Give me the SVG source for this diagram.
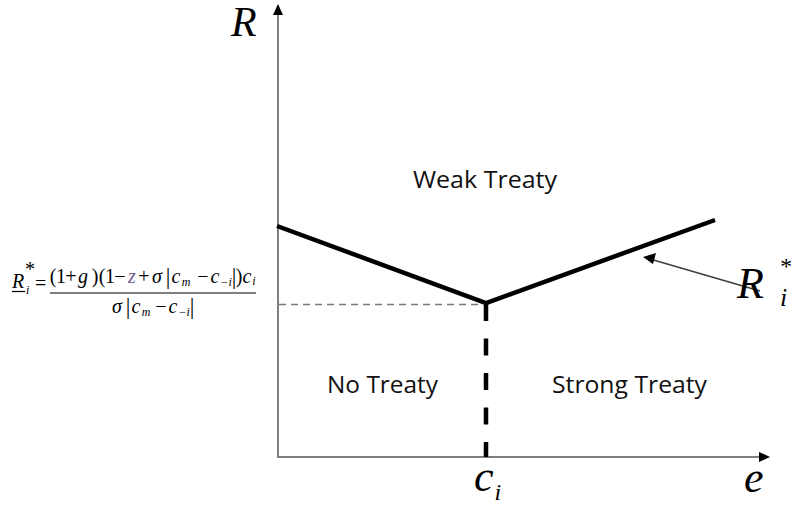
<svg xmlns="http://www.w3.org/2000/svg" width="801" height="506" viewBox="0 0 801 506">
<style>
.axis{stroke:#7f7f7f;stroke-width:2;fill:none}
.thick{stroke:#000;stroke-width:4.5;fill:none}
.lbl{font-family:"Open Sans","Liberation Sans",sans-serif;font-size:23px;fill:#111}
.math{font-family:"Liberation Serif",serif;font-style:italic;fill:#000}
.f{font-family:"Liberation Serif",serif;font-size:20px;fill:#000}
.it{font-style:italic}
.sub{font-size:12px;font-style:italic}
.bar{font-size:23px}
</style>
<rect width="801" height="506" fill="#fff"/>
<g id="axes">
<line class="axis" x1="278" y1="457" x2="278" y2="13"/>
<polygon points="278,4 273,15 283,15" fill="#000"/>
<line class="axis" x1="277" y1="457" x2="761" y2="457"/>
<polygon points="770,457 759,452 759,462" fill="#000"/>
<text id="label-R" class="math" x="231" y="36" font-size="42">R</text>
<text id="label-e" class="math" x="744" y="492" font-size="44">e</text>
<text id="label-ci" class="math" x="474" y="491" font-size="44">c<tspan font-size="24" dx="1" dy="9">i</tspan></text>
</g>
<g id="connectors">
<polyline id="curve" class="thick" points="277,226 486,303 715,220"/>
<line id="threshold-h" x1="279" y1="304.5" x2="484" y2="304.5" stroke="#7a7a7a" stroke-width="1.5" stroke-dasharray="7 5"/>
<line id="threshold-v" x1="486" y1="304" x2="486" y2="457" stroke="#000" stroke-width="4.5" stroke-dasharray="17 17.5"/>
<line id="pointer" x1="760" y1="291" x2="650" y2="259" stroke="#404040" stroke-width="1.5"/>
<polygon points="643,257 656,253 653,264" fill="#000"/>
</g>
<g id="region-weak"><text class="lbl" x="413" y="188" textLength="144" lengthAdjust="spacingAndGlyphs">Weak Treaty</text></g>
<g id="region-none"><text class="lbl" x="327" y="393" textLength="111" lengthAdjust="spacingAndGlyphs">No Treaty</text></g>
<g id="region-strong"><text class="lbl" x="552" y="393" textLength="155" lengthAdjust="spacingAndGlyphs">Strong Treaty</text></g>
<g id="label-Rstar">
<text class="math" x="737" y="298" font-size="44">R</text>
<text class="math" x="779" y="274" font-size="24" font-style="normal">*</text>
<text class="math" x="780" y="306" font-size="26">i</text>
</g>
<g id="formula">
<text class="f it" x="12" y="288">R</text>
<line x1="12" y1="291.5" x2="25" y2="291.5" stroke="#000" stroke-width="1.2"/>
<text class="f" x="25" y="276" font-size="10">*</text>
<text class="f sub" x="26" y="294">i</text>
<text class="f" x="35" y="290">=</text>
<text class="f" y="283" text-anchor="middle"><tspan x="53">(</tspan><tspan x="61">1</tspan><tspan x="71">+</tspan><tspan x="83" class="it">g</tspan><tspan x="95">)</tspan><tspan x="102">(</tspan><tspan x="110">1</tspan><tspan x="120">−</tspan><tspan x="132" class="it" fill="#6b5b8c">z</tspan><tspan x="144">+</tspan><tspan x="157" class="it">σ</tspan><tspan x="168" class="bar" dy="1">|</tspan><tspan x="176" class="it" dy="-1">c</tspan><tspan x="186" class="sub" dy="3">m</tspan><tspan x="203" dy="-3">−</tspan><tspan x="215" class="it">c</tspan><tspan x="226" class="sub" dy="3">−i</tspan><tspan x="234" class="bar" dy="-2">|</tspan><tspan x="239" dy="-1">)</tspan><tspan x="247" class="it">c</tspan><tspan x="254" class="sub" dy="2">i</tspan></text>
<line x1="50" y1="293" x2="256" y2="293" stroke="#000" stroke-width="1.2"/>
<text class="f" y="313" text-anchor="middle"><tspan x="117" class="it">σ</tspan><tspan x="128" class="bar" dy="1">|</tspan><tspan x="136" class="it" dy="-1">c</tspan><tspan x="146" class="sub" dy="3">m</tspan><tspan x="161" dy="-3">−</tspan><tspan x="173" class="it">c</tspan><tspan x="184" class="sub" dy="3">−i</tspan><tspan x="192" class="bar" dy="-2">|</tspan></text>
</g>
</svg>
